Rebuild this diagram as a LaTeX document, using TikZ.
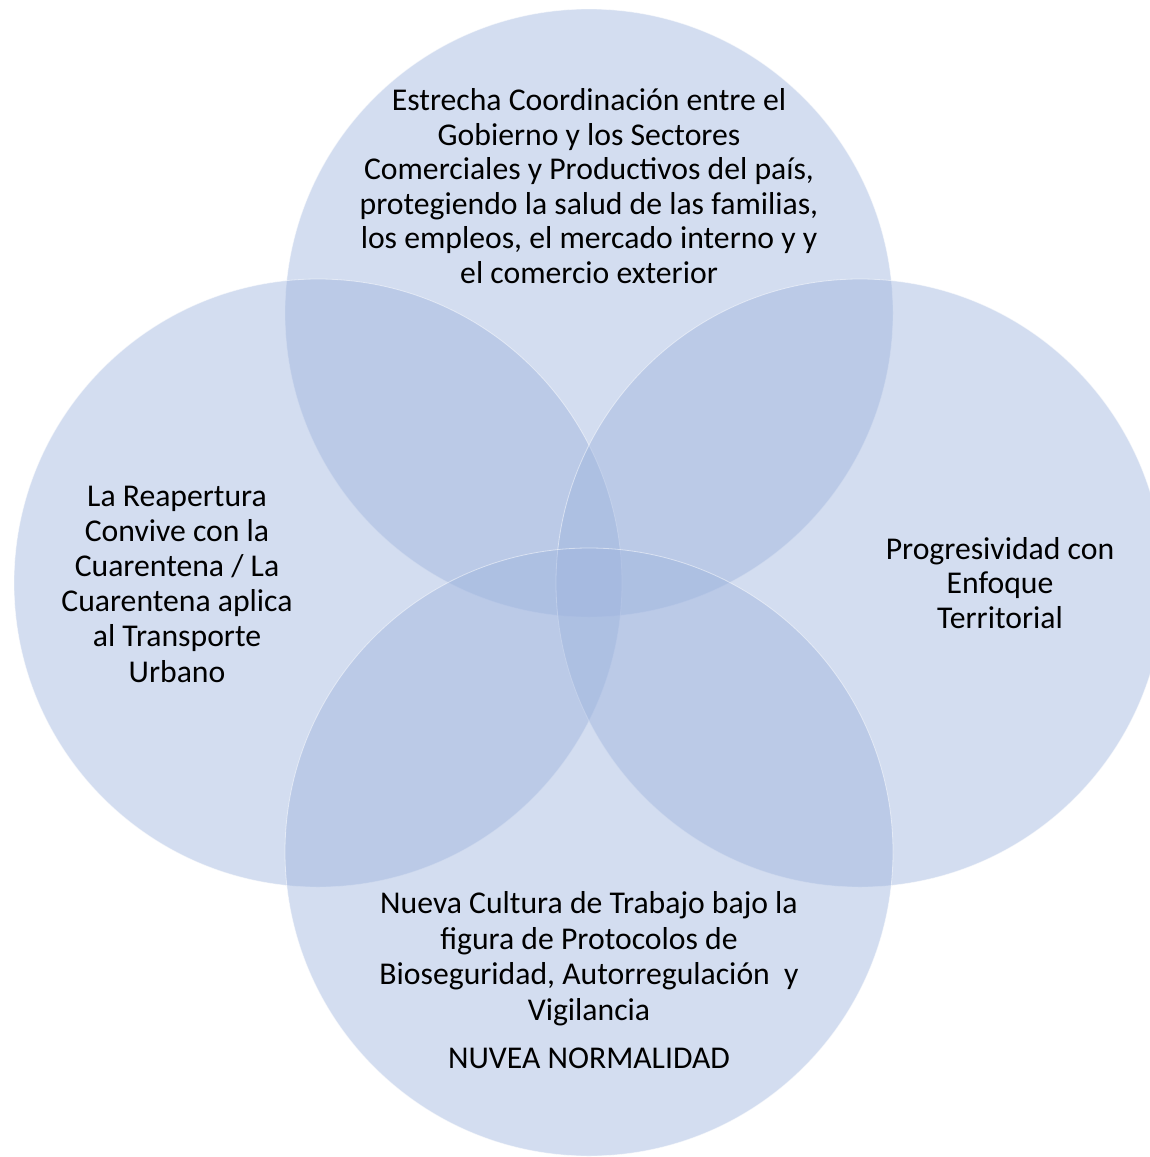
\documentclass[tikz,border=0pt]{standalone}
\usepackage{fontspec}
\setmainfont{Carlito}
\definecolor{cfill}{RGB}{158,180,222}
\tikzset{
  venn/.style={fill=cfill, fill opacity=0.45, draw=white, draw opacity=0.5, line width=0.4pt},
  lbl/.style={align=center, text=black, inner sep=0pt, font=\fontsize{15.85}{17.25}\selectfont}
}
\begin{document}
\begin{tikzpicture}[x=0.5pt,y=-0.5pt]
\useasboundingbox (0,0) rectangle (1150,1157);
\fill[white] (0,0) rectangle (1150,1157);
\begin{scope}
\clip (0,0) rectangle (1150,1157);
\path[venn] (589,313) circle[radius=152pt];
\path[venn] (318,583) circle[radius=152pt];
\path[venn] (860,583) circle[radius=152pt];
\path[venn] (589,852) circle[radius=152pt];
\end{scope}
\node[lbl] (top) at (589,186) {Estrecha Coordinación entre el\\Gobierno y los Sectores\\Comerciales y Productivos del país,\\protegiendo la salud de las familias,\\los empleos, el mercado interno y y\\el comercio exterior};
\node[lbl, font=\fontsize{15.85}{17.6}\selectfont] (left) at (177,584) {La Reapertura\\Convive con la\\Cuarentena / La\\Cuarentena aplica\\al Transporte\\Urbano};
\node[lbl] (right) at (1000,583) {Progresividad con\\Enfoque\\Territorial};
\node[lbl, font=\fontsize{15.85}{17.8}\selectfont] (bottom) at (589,980) {Nueva Cultura de Trabajo bajo la\\figura de Protocolos de\\Bioseguridad, Autorregulación\ \ y\\Vigilancia\\[6.3pt]NUVEA NORMALIDAD};
\end{tikzpicture}
\end{document}
